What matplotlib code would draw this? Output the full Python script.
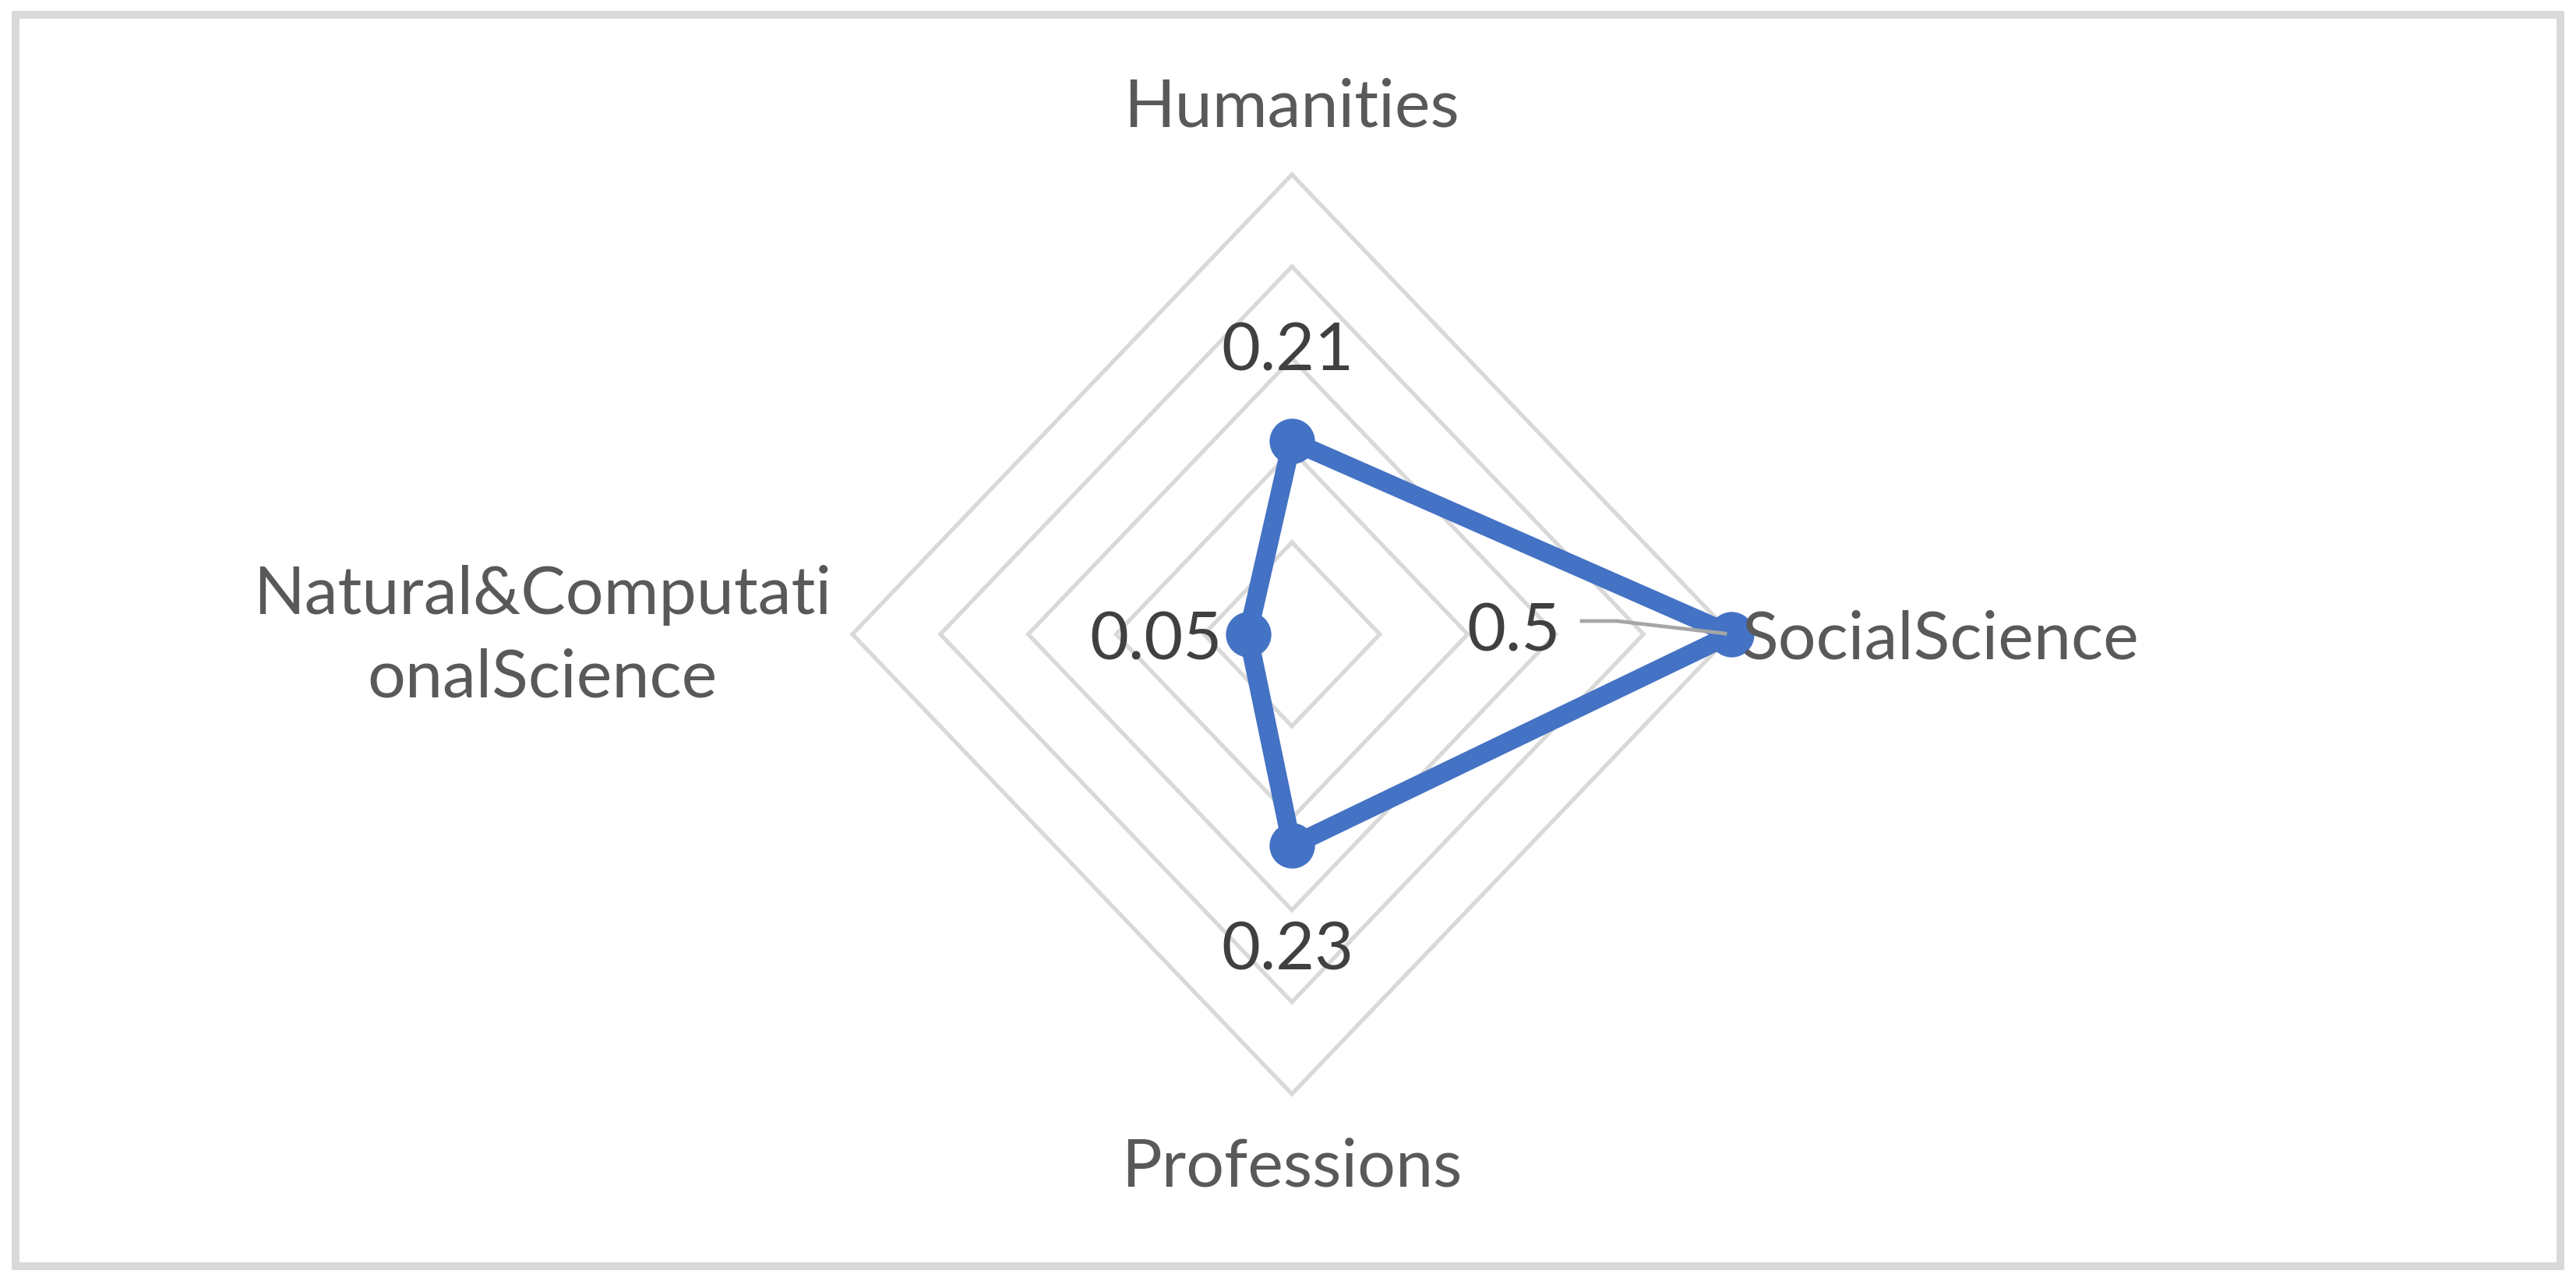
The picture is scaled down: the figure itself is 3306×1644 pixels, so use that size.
import numpy as np
import matplotlib
matplotlib.use("Agg")
import matplotlib.pyplot as plt
import matplotlib.transforms as mtransforms
from matplotlib.patches import Rectangle
from matplotlib.lines import Line2D

# ---------------- data ----------------
categories = ["Humanities", "SocialScience", "Professions", "Natural&Computati\nonalScience"]
values = [0.21, 0.5, 0.23, 0.05]
value_labels = ["0.21", "0.5", "0.23", "0.05"]
ring_levels = [0.1, 0.2, 0.3, 0.4, 0.5]
r_max = 0.5

# ---------------- style ----------------
plt.rcParams['font.family'] = ['Lato', 'DejaVu Sans']
W, H = 3306, 1644
DPI = 100
fig = plt.figure(figsize=(W / DPI, H / DPI), dpi=DPI)
fig.patch.set_facecolor('white')

cx, cy_top = 1658, 814          # chart centre in pixels (y from top)
rx, ry = 564, 590               # radius of outer ring in pixels
ax = fig.add_axes([(cx - rx) / W, (H - cy_top - ry) / H, 2 * rx / W, 2 * ry / H])
ax.set_xlim(-r_max, r_max)
ax.set_ylim(-r_max, r_max)
ax.axis('off')

n = len(categories)
theta = np.arange(n) * 2 * np.pi / n
ux, uy = np.sin(theta), np.cos(theta)

# grid rings
for r in ring_levels:
    xs = np.append(r * ux, r * ux[0])
    ys = np.append(r * uy, r * uy[0])
    ax.plot(xs, ys, color='#D9D9D9', lw=3.8, solid_joinstyle='miter', zorder=1, clip_on=False)

# series
vals = np.array(values)
vx, vy = vals * ux, vals * uy
ax.plot(np.append(vx, vx[0]), np.append(vy, vy[0]), color='#4472C4', lw=17.5,
        solid_joinstyle='round', zorder=3, clip_on=False)
ax.plot(vx, vy, 'o', ms=42, color='#4472C4', mec='#4472C4', mew=0, zorder=4, clip_on=False)

# category labels (offsets in pixels from outer ring vertex)
cat_fs = 62
cat_color = '#595959'
cat_offsets = [(0, 62, 'center', 'baseline'),
               (13, -31, 'left', 'baseline'),
               (0, -118, 'center', 'baseline'),
               (-398, -3, 'center', 'center')]
for i, (lab, (ox, oy, ha, va)) in enumerate(zip(categories, cat_offsets)):
    ax.annotate(lab, xy=(r_max * ux[i], r_max * uy[i]), xytext=(ox, oy),
                textcoords='offset pixels', ha=ha, va=va, fontsize=cat_fs,
                color=cat_color, linespacing=1.45, multialignment='center',
                annotation_clip=False, zorder=6)

# data labels (offsets in pixels from the data point)
val_fs = 62
val_color = '#404040'
val_offsets = [(-6, 91, 'center'),
               (-219, -21, 'right'),
               (-6, -159, 'center'),
               (-33, -32, 'right')]
for i, (lab, (ox, oy, ha)) in enumerate(zip(value_labels, val_offsets)):
    ax.annotate(lab, xy=(vx[i], vy[i]), xytext=(ox, oy), textcoords='offset pixels',
                ha=ha, va='baseline', fontsize=val_fs, color=val_color,
                annotation_clip=False, zorder=6)

# leader line for the SocialScience label
fig.canvas.draw()
px, py = ax.transData.transform((vx[1], vy[1]))
leader = Line2D([px - 192, px - 147, px - 8], [py + 17, py + 17, py + 1],
                transform=mtransforms.IdentityTransform(), color='#A6A6A6', lw=3.4, zorder=7)
fig.add_artist(leader)

# chart border
fig.add_artist(Rectangle((20 / W, (H - 1625) / H), (3286 - 20) / W, (1625 - 19) / H,
                         transform=fig.transFigure, fill=False, edgecolor='#D9D9D9',
                         lw=7.2, zorder=0))

fig.savefig('out.png', dpi=DPI, facecolor='white')
